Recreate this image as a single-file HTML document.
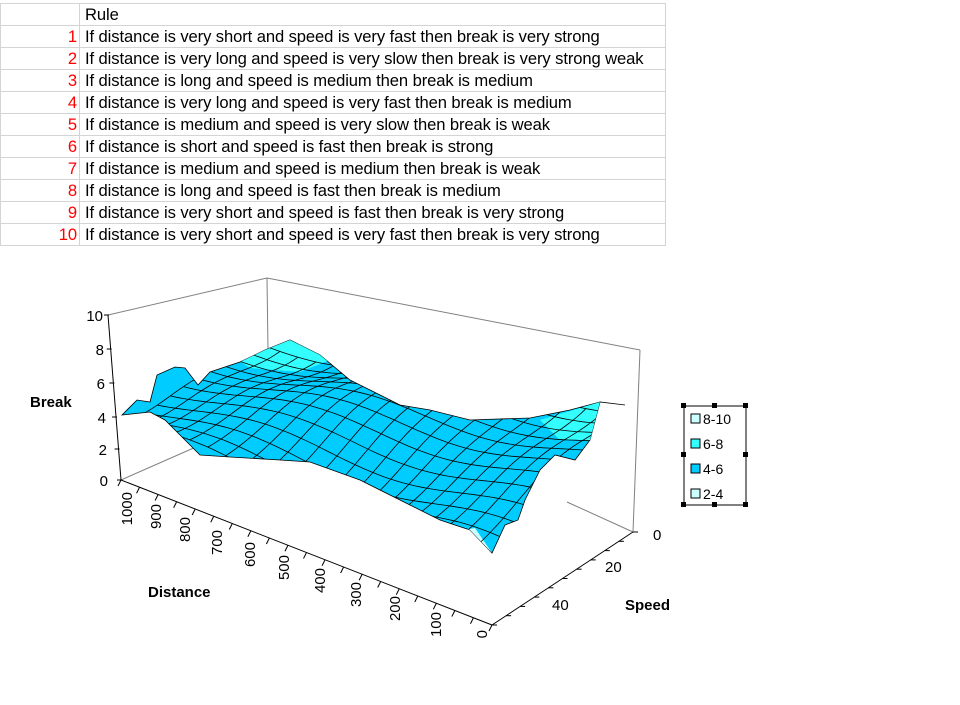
<!DOCTYPE html><html><head><style>
body{margin:0;width:960px;height:705px;background:#fff;font-family:"Liberation Sans",Arial,sans-serif;position:relative;overflow:hidden}
table{position:absolute;left:0;top:3px;border-collapse:collapse;font-size:16.6px}
td{border:1px solid #d4d4d4;height:21px;padding:0 0 0 5px;white-space:nowrap;line-height:21px;letter-spacing:-0.1px}
td.n{width:76px;text-align:right;color:#f00;padding:0 2px 0 0}
td.r{width:580px}
</style></head><body>
<table>
<tr><td class="n" style="color:#000"></td><td class="r">Rule</td></tr>
<tr><td class="n">1</td><td class="r">If distance is very short and speed is very fast then break is very strong</td></tr>
<tr><td class="n">2</td><td class="r">If distance is very long and speed is very slow then break is very strong weak</td></tr>
<tr><td class="n">3</td><td class="r">If distance is long and speed is medium then break is medium</td></tr>
<tr><td class="n">4</td><td class="r">If distance is very long and speed is very fast then break is medium</td></tr>
<tr><td class="n">5</td><td class="r">If distance is medium and speed is very slow then break is weak</td></tr>
<tr><td class="n">6</td><td class="r">If distance is short and speed is fast then break is strong</td></tr>
<tr><td class="n">7</td><td class="r">If distance is medium and speed is medium then break is weak</td></tr>
<tr><td class="n">8</td><td class="r">If distance is long and speed is fast then break is medium</td></tr>
<tr><td class="n">9</td><td class="r">If distance is very short and speed is fast then break is very strong</td></tr>
<tr><td class="n">10</td><td class="r">If distance is very short and speed is very fast then break is very strong</td></tr>
</table>
<svg width="960" height="705" style="position:absolute;left:0;top:0" font-family="Liberation Sans, Arial, sans-serif">
<defs><clipPath id="c"><polygon points="122,415 137,400 150,402 157,375 175,367 185,368 198,385 210,372 240,362 265,350 290,340 300,345 320,355 350,380 400,405 430,410 470,420 530,418 570,410 600,402 625,405 600,402 590,440 575,460 555,455 540,470 525,500 518,520 505,525 492,553 470,530 440,520 410,505 360,480 310,462 280,460 230,457 200,455 185,440 165,420 150,412"/></clipPath></defs>
<g stroke="#808080" fill="none" stroke-width="1">
<line x1="108" y1="315" x2="267" y2="278"/><line x1="267" y1="278" x2="640" y2="350"/>
<line x1="640" y1="350" x2="633" y2="532"/><line x1="267" y1="278" x2="268" y2="350"/>
<line x1="121" y1="480" x2="205" y2="443"/><line x1="567" y1="502" x2="633" y2="532"/>
</g>
<polygon points="122,415 137,400 150,402 157,375 175,367 185,368 198,385 210,372 240,362 265,350 290,340 300,345 320,355 350,380 400,405 430,410 470,420 530,418 570,410 600,402 625,405 600,402 590,440 575,460 555,455 540,470 525,500 518,520 505,525 492,553 470,530 440,520 410,505 360,480 310,462 280,460 230,457 200,455 185,440 165,420 150,412" fill="#00ccff" stroke="#000" stroke-width="0.8"/>
<g clip-path="url(#c)">
<polygon points="230,355 290,338 330,360 300,372 250,368" fill="#33ffff"/>
<polygon points="540,420 600,402 625,405 600,440 560,440" fill="#33ffff"/>
<polygon points="462,530 475,528 492,553" fill="#ccffff"/>
<g id="mesh" stroke="#000" stroke-width="0.8" fill="none"></g>
</g>
<g stroke="#000" fill="none">
<line x1="108" y1="315" x2="121" y2="480"/>
<line x1="121" y1="480" x2="492" y2="625"/>
<line x1="492" y1="625" x2="633" y2="532"/>
</g>
<g id="ticks" stroke="#000"></g>
<g font-size="15" text-anchor="end">
<text x="103" y="321">10</text><text x="104" y="355">8</text><text x="105" y="389">6</text><text x="106" y="423">4</text><text x="107" y="455">2</text><text x="108" y="486">0</text>
</g>
<g font-size="15" text-anchor="end" id="dl"></g>
<g font-size="15"><text x="653" y="540">0</text><text x="605" y="572">20</text><text x="552" y="610">40</text></g>
<g font-size="15" font-weight="bold"><text x="30" y="407">Break</text><text x="148" y="597">Distance</text><text x="625" y="610">Speed</text></g>
<rect x="684" y="406" width="62" height="99" fill="#fff" stroke="#000"/>
<g fill="#000"><rect x="681" y="403" width="5" height="5"/><rect x="712" y="403" width="5" height="5"/><rect x="743" y="403" width="5" height="5"/><rect x="681" y="452" width="5" height="5"/><rect x="743" y="452" width="5" height="5"/><rect x="681" y="502" width="5" height="5"/><rect x="712" y="502" width="5" height="5"/><rect x="743" y="502" width="5" height="5"/></g>
<g stroke="#000" font-size="14"><rect x="691" y="414" width="9" height="9" fill="#ccffff"/><rect x="691" y="439" width="9" height="9" fill="#33ffff"/><rect x="691" y="464" width="9" height="9" fill="#00ccff"/><rect x="691" y="489" width="9" height="9" fill="#ccffff"/></g>
<g font-size="14"><text x="703" y="424">8-10</text><text x="703" y="449">6-8</text><text x="703" y="474">4-6</text><text x="703" y="499">2-4</text></g>
</svg>
<script>
var ns="http://www.w3.org/2000/svg";
function P(u,v){var A=[262,340],B=[640,405],C=[495,555],D=[118,418];
var x=(1-u)*(1-v)*A[0]+u*(1-v)*B[0]+u*v*C[0]+(1-u)*v*D[0];
var y=(1-u)*(1-v)*A[1]+u*(1-v)*B[1]+u*v*C[1]+(1-u)*v*D[1];
y+=8*Math.sin(u*9+v*3)+5*Math.cos(v*7);return [x,y];}
var m=document.getElementById("mesh");var NU=21,NV=11,S=30;
function add(d){var e=document.createElementNS(ns,"path");e.setAttribute("d",d);m.appendChild(e);}
for(var i=0;i<=NU;i++){var a="";for(var j=0;j<=S;j++){var p=P(i/NU,j/S);a+=(j?"L":"M")+p[0].toFixed(1)+","+p[1].toFixed(1);}add(a);}
for(var i=0;i<=NV;i++){var a="";for(var j=0;j<=S*2;j++){var p=P(j/(S*2),i/NV);a+=(j?"L":"M")+p[0].toFixed(1)+","+p[1].toFixed(1);}add(a);}
var t=document.getElementById("ticks");
function L(x1,y1,x2,y2){var e=document.createElementNS(ns,"line");e.setAttribute("x1",x1);e.setAttribute("y1",y1);e.setAttribute("x2",x2);e.setAttribute("y2",y2);t.appendChild(e);}
[315,349,383,417,449,480].forEach(function(y,k){var x=108+13*(y-315)/165;L(x-4,y,x+1,y);});
for(var k=0;k<=20;k++){var x=121+371*k/20,y=480+145*k/20;L(x,y,x-3,y+6);}
for(var k=0;k<=10;k++){var x=492+141*k/10,y=625-93*k/10;L(x,y,x+5,y);}
var dl=document.getElementById("dl");var labs=["1000","900","800","700","600","500","400","300","200","100","0"];
var pos=[[132,492],[161,504],[190,517],[222,530],[255,542],[289,555],[325,568],[361,582],[400,596],[441,612],[487,630]];
labs.forEach(function(s,k){var e=document.createElementNS(ns,"text");e.setAttribute("transform","translate("+pos[k][0]+","+pos[k][1]+") rotate(-90)");e.textContent=s;dl.appendChild(e);});
</script>
</body></html>
